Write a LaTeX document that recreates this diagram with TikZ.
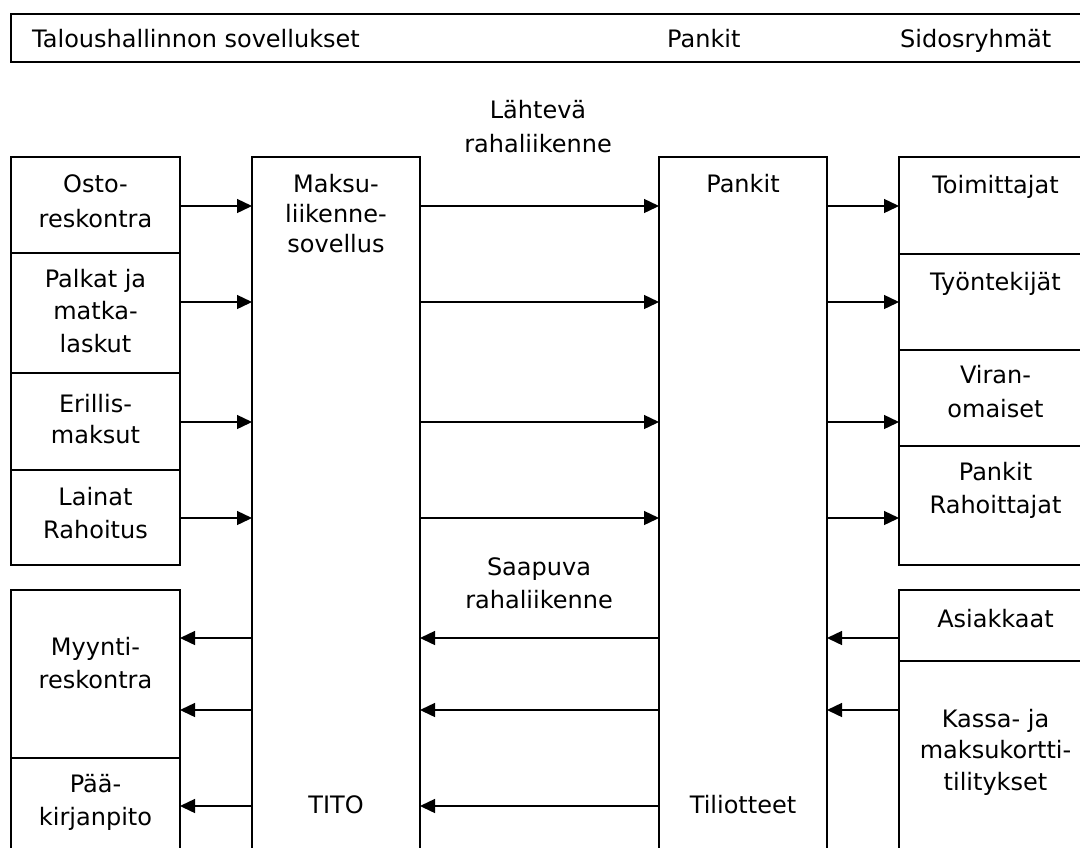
\documentclass[tikz,border=0pt]{standalone}
\usepackage{fontspec}
\setmainfont{DejaVu Sans}
\usetikzlibrary{arrows.meta}
\newcommand\mlines[2][33]{\vtop{\baselineskip=#1pt\lineskip=0pt\lineskiplimit=-100pt\halign{\hfil##\hfil\cr#2\crcr}}}
\begin{document}
\begin{tikzpicture}[x=1pt,y=-1pt,
  box/.style={draw,line width=1.8pt,outer sep=0pt,inner sep=0pt,anchor=north west},
  txt/.style={inner sep=0pt,anchor=base,font=\fontsize{24}{33}\selectfont},
  arr/.style={line width=1.4pt,-{Triangle[length=15pt,width=14pt]}}]
\path[use as bounding box] (0,0) rectangle (1080,847);
\clip (0,0) rectangle (1080,847);
% header
\node[box,minimum width=1100pt,minimum height=48pt] (header) at (11,14) {};
\node[txt,anchor=base west] (hleft) at (32,47) {Taloushallinnon sovellukset};
\node[txt,anchor=base west] (hmid) at (667,47) {Pankit};
\node[txt,anchor=base west] (hright) at (900,47) {Sidosryhmät};
% left boxes
\node[box,minimum width=169pt,minimum height=96pt] (osto) at (11,157) {};
\node[box,minimum width=169pt,minimum height=120pt] (palkat) at (11,253) {};
\node[box,minimum width=169pt,minimum height=97pt] (erillis) at (11,373) {};
\node[box,minimum width=169pt,minimum height=95pt] (lainat) at (11,470) {};
\node[box,minimum width=169pt,minimum height=168pt] (myynti) at (11,590) {};
\node[box,minimum width=169pt,minimum height=120pt] (paa) at (11,758) {};
% middle columns
\node[box,minimum width=168pt,minimum height=720pt] (maksu) at (252,157) {};
\node[box,minimum width=168pt,minimum height=720pt] (pankit) at (659,157) {};
% right boxes
\node[box,minimum width=193pt,minimum height=97pt] (toim) at (899,157) {};
\node[box,minimum width=193pt,minimum height=96pt] (tyon) at (899,254) {};
\node[box,minimum width=193pt,minimum height=96pt] (viran) at (899,350) {};
\node[box,minimum width=193pt,minimum height=119pt] (rahoit) at (899,446) {};
\node[box,minimum width=193pt,minimum height=71pt] (asiak) at (899,590) {};
\node[box,minimum width=193pt,minimum height=220pt] (kassa) at (899,661) {};
% texts
\node[txt] (osto-t) at (osto.north |- 0,192) {\mlines[35]{Osto-\cr reskontra}};
\node[txt] (palkat-t) at (palkat.north |- 0,287) {\mlines[32.5]{Palkat ja\cr matka-\cr laskut}};
\node[txt] (erillis-t) at (erillis.north |- 0,412) {\mlines[31]{Erillis-\cr maksut}};
\node[txt] (lainat-t) at (lainat.north |- 0,505) {\mlines[33]{Lainat\cr Rahoitus}};
\node[txt] (myynti-t) at (myynti.north |- 0,655) {\mlines[33]{Myynti-\cr reskontra}};
\node[txt] (paa-t) at (paa.north |- 0,792) {\mlines[33]{Pää-\cr kirjanpito}};
\node[txt] (maksu-t) at (maksu.north |- 0,192) {\mlines[30]{Maksu-\cr liikenne-\cr sovellus}};
\node[txt] (tito-t) at (maksu.north |- 0,813) {TITO};
\node[txt] (pankit-t) at (pankit.north |- 0,192) {Pankit};
\node[txt] (tili-t) at (pankit.north |- 0,813) {Tiliotteet};
\node[txt] (toim-t) at (toim.north |- 0,193) {Toimittajat};
\node[txt] (tyon-t) at (tyon.north |- 0,290) {Työntekijät};
\node[txt] (viran-t) at (viran.north |- 0,383) {\mlines[34]{Viran-\cr omaiset}};
\node[txt] (rahoit-t) at (rahoit.north |- 0,480) {\mlines[33]{Pankit\cr Rahoittajat}};
\node[txt] (asiak-t) at (asiak.north |- 0,627) {Asiakkaat};
\node[txt] (kassa-t) at (kassa.north |- 0,727) {\mlines[31.5]{Kassa- ja\cr maksukortti-\cr tilitykset}};
\node[txt] (lahteva) at (538,118) {\mlines[34]{Lähtevä\cr rahaliikenne}};
\node[txt] (saapuva) at (539,575) {\mlines[33]{Saapuva\cr rahaliikenne}};
% outgoing arrows
\draw[arr] (osto.east |- 0,206) -- (maksu.west |- 0,206);
\draw[arr] (palkat.east |- 0,302) -- (maksu.west |- 0,302);
\draw[arr] (erillis.east |- 0,422) -- (maksu.west |- 0,422);
\draw[arr] (lainat.east |- 0,518) -- (maksu.west |- 0,518);
\draw[arr] (maksu.east |- 0,206) -- (pankit.west |- 0,206);
\draw[arr] (maksu.east |- 0,302) -- (pankit.west |- 0,302);
\draw[arr] (maksu.east |- 0,422) -- (pankit.west |- 0,422);
\draw[arr] (maksu.east |- 0,518) -- (pankit.west |- 0,518);
\draw[arr] (pankit.east |- 0,206) -- (toim.west |- 0,206);
\draw[arr] (pankit.east |- 0,302) -- (tyon.west |- 0,302);
\draw[arr] (pankit.east |- 0,422) -- (viran.west |- 0,422);
\draw[arr] (pankit.east |- 0,518) -- (rahoit.west |- 0,518);
% incoming arrows
\draw[arr] (asiak.west |- 0,638) -- (pankit.east |- 0,638);
\draw[arr] (kassa.west |- 0,710) -- (pankit.east |- 0,710);
\draw[arr] (pankit.west |- 0,638) -- (maksu.east |- 0,638);
\draw[arr] (pankit.west |- 0,710) -- (maksu.east |- 0,710);
\draw[arr] (pankit.west |- 0,806) -- (maksu.east |- 0,806);
\draw[arr] (maksu.west |- 0,638) -- (myynti.east |- 0,638);
\draw[arr] (maksu.west |- 0,710) -- (myynti.east |- 0,710);
\draw[arr] (maksu.west |- 0,806) -- (paa.east |- 0,806);
\end{tikzpicture}
\end{document}
